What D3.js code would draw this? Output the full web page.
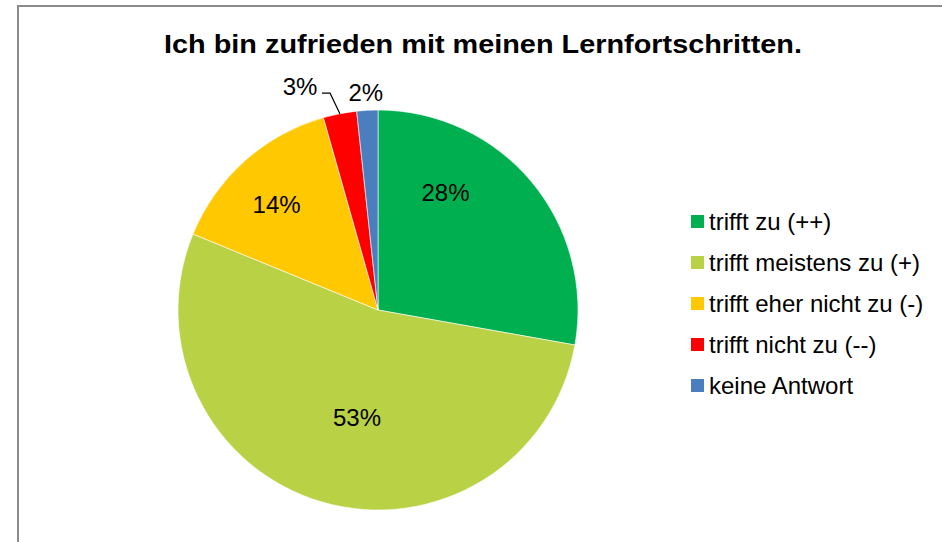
<!DOCTYPE html>
<html lang="de">
  <head>
    <meta charset="UTF-8" />
    <title>Lernfortschritte</title>
    <script src="https://cdn.jsdelivr.net/npm/d3@7/dist/d3.min.js"></script>
    <style>
      body { margin: 0; background: #fff; }
      text { font-family: "Liberation Sans", Arial, sans-serif; fill: #000; }
    </style>
  </head>
  <body>
    <svg width="942" height="542"></svg>
  </body>

  <script>
    var categories = ['trifft zu (++)', 'trifft meistens zu (+)', 'trifft eher nicht zu (-)', 'trifft nicht zu (--)', 'keine Antwort'];
    var values = [27.8, 53.4, 14.4, 2.7, 1.7];
    var colors = ['#00B050', '#B9D145', '#FFC800', '#FF0000', '#4A7EBF'];

    // label placement (degrees from top, distance from centre), Excel-like "best fit"
    var labelAngle = [30, 191, 316, 340.8, 356.8];
    var labelDist = [135, 110, 146, 237, 218];

    var svg = d3.select('svg');
    var cx = 378, cy = 310, radius = 200;

    // frame
    svg.append('path')
      .attr('d', 'M18,542 V6 H942')
      .attr('fill', 'none')
      .attr('stroke', '#8c8c8c')
      .attr('stroke-width', 2);

    svg.append('text')
      .attr('x', 483)
      .attr('y', 53)
      .attr('text-anchor', 'middle')
      .attr('textLength', 638)
      .attr('lengthAdjust', 'spacingAndGlyphs')
      .style('font-size', '26px')
      .style('font-weight', 'bold')
      .text('Ich bin zufrieden mit meinen Lernfortschritten.');

    var pie = d3.pie().sort(null).value(function (d) { return d; });
    var arcs = pie(values);
    var arc = d3.arc().innerRadius(0).outerRadius(radius);

    var g = svg.append('g').attr('transform', 'translate(' + cx + ',' + cy + ')');

    g.selectAll('path.slice')
      .data(arcs)
      .enter()
      .append('path')
      .attr('class', 'slice')
      .attr('d', arc)
      .attr('fill', function (d, i) { return colors[i]; })
      .attr('stroke', '#fff')
      .attr('stroke-width', 0.6);

    function polar(deg, r) {
      var a = deg * Math.PI / 180;
      return [Math.sin(a) * r, -Math.cos(a) * r];
    }

    // leader line for the small red slice
    var redMid = (arcs[3].startAngle + arcs[3].endAngle) / 2;
    var tip = [Math.sin(redMid) * radius, -Math.cos(redMid) * radius];
    var lp = polar(labelAngle[3], labelDist[3]);
    g.append('polyline')
      .attr('points', [[lp[0] + 22, lp[1] + 7], [lp[0] + 30, lp[1] + 7], tip].map(function (p) { return p.join(','); }).join(' '))
      .attr('fill', 'none')
      .attr('stroke', '#000')
      .attr('stroke-width', 1.2);

    g.selectAll('text.lbl')
      .data(arcs)
      .enter()
      .append('text')
      .attr('class', 'lbl')
      .attr('transform', function (d, i) {
        var p = polar(labelAngle[i], labelDist[i]);
        return 'translate(' + p[0] + ',' + p[1] + ')';
      })
      .attr('text-anchor', 'middle')
      .attr('dy', '0.35em')
      .style('font-size', '24px')
      .text(function (d) { return Math.round(d.value) + '%'; });

    // legend
    var legend = svg.append('g').attr('transform', 'translate(691,215)');
    var rows = legend.selectAll('g').data(categories).enter().append('g')
      .attr('transform', function (d, i) { return 'translate(0,' + i * 41 + ')'; });
    rows.append('rect')
      .attr('width', 13)
      .attr('height', 13)
      .attr('fill', function (d, i) { return colors[i]; });
    rows.append('text')
      .attr('x', 18)
      .attr('y', 7)
      .attr('dy', '0.35em')
      .style('font-size', '24px')
      .text(function (d) { return d; });
  </script>
</html>
